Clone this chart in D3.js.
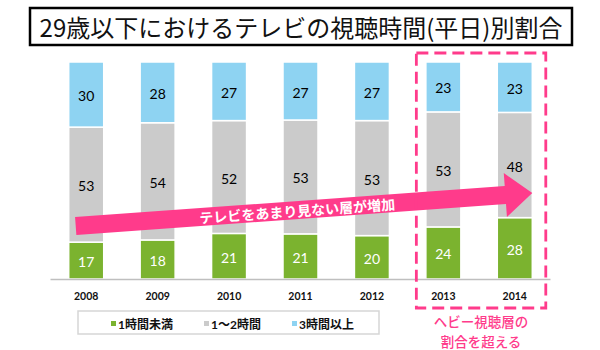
<!DOCTYPE html>
<html><head><meta charset="utf-8">
<script src="https://cdn.jsdelivr.net/npm/d3@7"></script>
<style>
html,body{margin:0;padding:0;background:#fff;}
svg{display:block;}
</style></head>
<body>
<svg id="chart" width="600" height="350"></svg>
<script>
const title = "29歳以下におけるテレビの視聴時間(平日)別割合";
const years = ["2008","2009","2010","2011","2012","2013","2014"];
const seriesNames = ["1時間未満","1～2時間","3時間以上"];
const under1h = [17,18,21,21,20,24,28];
const h1to2 = [53,54,52,53,53,53,48];
const over3h = [30,28,27,27,27,23,23];
const colors = ["#7bb32f","#cbcbcb","#8ed3f2"];
const labelColors = ["#ffffff","#000000","#000000"];
const arrowText = "テレビをあまり見ない層が増加";
const noteLines = ["ヘビー視聴層の","割合を超える"];
const highlightYears = ["2013","2014"];

const pink = "#ff3b8b";
const svg = d3.select("#chart");
const rows = years.map((y,i)=>({year:y, [seriesNames[0]]:under1h[i], [seriesNames[1]]:h1to2[i], [seriesNames[2]]:over3h[i]}));
const stacked = d3.stack().keys(seriesNames).offset(d3.stackOffsetExpand)(rows);

const x = d3.scaleBand().domain(years).range([50.5,550.5]).paddingInner(0.51).paddingOuter(0.255);
const y = d3.scaleLinear().domain([0,1]).range([279,62]);
const bw = x.bandwidth();

// title
svg.append("rect").attr("x",30).attr("y",8).attr("width",542).attr("height",37)
  .attr("fill","#fff").attr("stroke","#000").attr("stroke-width",2.5);
svg.append("text").attr("x",301).attr("y",37).attr("text-anchor","middle")
  .attr("font-family","'Noto Sans CJK JP', sans-serif").attr("font-size",24).attr("fill","#111")
  .text(title);

// bars
const g = svg.append("g");
stacked.forEach((s,si)=>{
  g.selectAll(null).data(s).enter().append("rect")
    .attr("x",d=>x(d.data.year)).attr("width",bw)
    .attr("y",d=>y(d[1])).attr("height",d=>y(d[0])-y(d[1]))
    .attr("fill",colors[si]).attr("stroke","#fff").attr("stroke-width",1.5);
});

// axis
const axis = svg.append("g").attr("transform","translate(0,279.5)")
  .call(d3.axisBottom(x).tickSize(0).tickPadding(13));
axis.select(".domain").attr("stroke","#bfbfbf").attr("stroke-width",1.5).attr("d","M50.5,0H550.5");
axis.selectAll("text").attr("font-family","Lato, sans-serif").attr("font-weight",700)
  .attr("font-size",10.5).attr("fill","#111");

// value labels
stacked.forEach((s,si)=>{
  g.selectAll(null).data(s).enter().append("text")
    .attr("x",d=>x(d.data.year)+bw/2).attr("y",d=>(y(d[0])+y(d[1]))/2+1)
    .attr("text-anchor","middle").attr("dominant-baseline","central")
    .attr("font-family","Lato, sans-serif").attr("font-size",14)
    .attr("fill",labelColors[si])
    .text(d=>d.data[seriesNames[si]]);
});

// arrow
const x0 = x("2008")+bw*0.2, y0 = y(0.244);
const x1 = x("2014")+bw, y1 = y(0.396);
const L = Math.hypot(x1-x0,y1-y0), ang = Math.atan2(y1-y0,x1-x0)*180/Math.PI;
const sh = 9, hh = 22, hl = 27;
const ag = svg.append("g").attr("transform",`translate(${x0},${y0}) rotate(${ang})`);
ag.append("path").attr("fill",pink)
  .attr("d",`M0,${-sh}L${L-hl},${-sh}L${L-hl},${-hh}L${L},0L${L-hl},${hh}L${L-hl},${sh}L0,${sh}Z`);
ag.append("text").attr("x",222).attr("y",0.5).attr("text-anchor","middle").attr("dominant-baseline","central")
  .attr("font-family","'Noto Sans CJK JP', sans-serif").attr("font-weight",700).attr("font-size",14)
  .attr("fill","#fff").text(arrowText);

// highlight dashed rect
const hx0 = x(highlightYears[0]) - 9.5, hx1 = x(highlightYears[1]) + bw + 13.5;
svg.append("rect").attr("x",hx0).attr("y",53).attr("width",hx1-hx0).attr("height",255)
  .attr("fill","none").attr("stroke",pink).attr("stroke-width",2.8).attr("stroke-dasharray","12,6");
svg.append("g").selectAll("text").data(noteLines).enter().append("text")
  .attr("x",(hx0+hx1)/2).attr("y",(d,i)=>321+i*20).attr("text-anchor","middle").attr("dominant-baseline","central")
  .attr("font-family","'Noto Sans CJK JP', sans-serif").attr("font-weight",500).attr("font-size",13.5)
  .attr("fill",pink).text(d=>d);

// legend
svg.append("rect").attr("x",78).attr("y",311).attr("width",301).attr("height",23)
  .attr("fill","#fff").attr("stroke","#d6d6d6").attr("stroke-width",1.5);
const legX = [111,204,292];
const lg = svg.append("g").selectAll("g").data(seriesNames).enter().append("g")
  .attr("transform",(d,i)=>`translate(${legX[i]},324)`);
lg.append("rect").attr("x",0).attr("y",-3).attr("width",5).attr("height",5).attr("fill",(d,i)=>colors[i]);
lg.append("text").attr("x",7).attr("y",0).attr("dominant-baseline","central")
  .attr("font-family","Lato, 'Noto Sans CJK JP', sans-serif").attr("font-weight",700).attr("font-size",12)
  .attr("fill","#111").text(d=>d);
</script>
</body></html>
